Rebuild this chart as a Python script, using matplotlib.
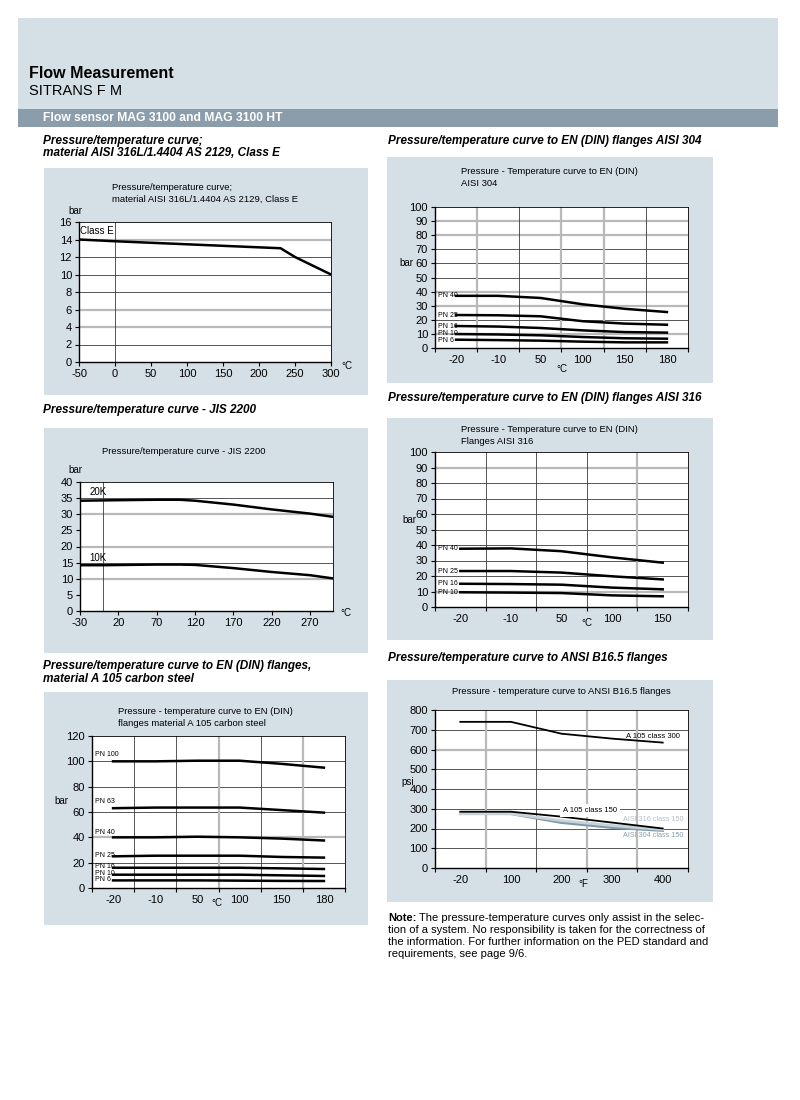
import numpy as np
import matplotlib
matplotlib.use("Agg")
import matplotlib.pyplot as plt
from matplotlib.patches import Rectangle

plt.rcParams["font.family"] = ["Liberation Sans", "DejaVu Sans"]
plt.rcParams["axes.unicode_minus"] = False

W, H = 800, 1100

# ---------------- data ----------------
# Class E, AISI 316L / 1.4404 AS 2129
classe_t = [-50, 0, 230, 250, 300]
classe_p = [14, 13.8, 13.0, 12.0, 10.0]

# JIS 2200
jis_t = [-30, 0, 70, 100, 120, 170, 220, 270, 300]
jis_20k = [34.2, 34.3, 34.5, 34.5, 34.2, 33.0, 31.5, 30.2, 29.2]
jis_10k = [14.2, 14.2, 14.4, 14.4, 14.3, 13.3, 12.1, 11.1, 10.1]

# EN (DIN) flanges AISI 304
din304_cats = ["-20", "-10", "50", "100", "150", "180"]
din304_names = ["PN 40", "PN 25", "PN 16", "PN 10", "PN 6"]
din304_pn40 = [37.0, 37.0, 35.5, 31.0, 27.8, 25.5]
din304_pn25 = [23.4, 23.2, 22.5, 19.0, 17.3, 16.5]
din304_pn16 = [15.6, 15.2, 14.2, 12.5, 11.3, 10.9]
din304_pn10 = [9.9, 9.6, 9.0, 7.8, 6.9, 6.6]
din304_pn6 = [5.9, 5.6, 5.2, 4.5, 4.0, 4.0]
din304_label_y = [37, 23, 15, 10, 5.5]

# EN (DIN) flanges AISI 316
din316_cats = ["-20", "-10", "50", "100", "150"]
din316_names = ["PN 40", "PN 25", "PN 16", "PN 10"]
din316_pn40 = [37.6, 37.8, 36.0, 32.0, 28.6]
din316_pn25 = [23.2, 23.2, 22.2, 19.8, 17.8]
din316_pn16 = [15.0, 14.8, 14.4, 12.5, 11.4]
din316_pn10 = [9.5, 9.3, 9.0, 7.5, 6.9]
din316_label_y = [38, 23, 15, 9.5]

# EN (DIN) flanges A 105 carbon steel
a105_cats = ["-20", "-10", "50", "100", "150", "180"]
a105_names = ["PN 100", "PN 63", "PN 40", "PN 25", "PN 16", "PN 10", "PN 6"]
a105_pn100 = [100.0, 100.0, 100.5, 100.5, 98.0, 95.0]
a105_pn63 = [63.0, 63.5, 63.5, 63.5, 61.5, 59.5]
a105_pn40 = [40.0, 40.0, 40.5, 40.0, 39.0, 37.5]
a105_pn25 = [25.0, 25.5, 25.5, 25.5, 24.5, 24.0]
a105_pn16 = [16.0, 16.0, 16.0, 16.0, 15.5, 15.0]
a105_pn10 = [10.5, 10.5, 10.5, 10.5, 10.0, 9.5]
a105_pn6 = [6.0, 6.0, 6.0, 5.8, 5.6, 5.5]
a105_label_y = [105, 68, 44, 25.5, 17, 11.5, 6.8]

# ANSI B16.5 flanges (psi vs degF)
ansi_cats = ["-20", "100", "200", "300", "400"]
ansi_a105_300 = [740, 740, 680, 655, 635]
ansi_a105_150 = [285, 285, 260, 230, 200]
ansi_316_150 = [275, 275, 240, 215, 195]
ansi_304_150 = [275, 275, 230, 205, 190]

# ---------------- style ----------------
BOX = "#d5dfe6"
BAND = "#8b9dab"
GREY = "#b9b9b9"
DARK = "#3a3a3a"

fig = plt.figure(figsize=(W / 100, H / 100), dpi=100)
fig.patch.set_facecolor("white")


def rect(x0, y0, x1, y1, color):
    fig.add_artist(Rectangle((x0 / W, 1 - y1 / H), (x1 - x0) / W, (y1 - y0) / H,
                             transform=fig.transFigure, color=color, lw=0, zorder=-5))


def ftxt(x, y, s, **kw):
    kw.setdefault("va", "center")
    kw.setdefault("ha", "left")
    return fig.text(x / W, 1 - y / H, s, **kw)


def px_axes(x0, y0, x1, y1):
    ax = fig.add_axes([x0 / W, 1 - y1 / H, (x1 - x0) / W, (y1 - y0) / H])
    ax.set_facecolor("white")
    for s in ["top", "right"]:
        ax.spines[s].set_linewidth(0.6)
    for s in ["left", "bottom"]:
        ax.spines[s].set_linewidth(1.0)
    ax.tick_params(labelsize=8, length=3, width=0.8, direction="out", pad=2)
    return ax


def hgrid(ax, levels, kinds):
    for v, k in zip(levels, kinds):
        if k == "g":
            ax.axhline(v, color=GREY, lw=1.6, zorder=1)
        else:
            ax.axhline(v, color=DARK, lw=0.6, zorder=1)


def vgrid(ax, levels, kinds):
    for v, k in zip(levels, kinds):
        if k == "g":
            ax.axvline(v, color=GREY, lw=1.6, zorder=1)
        else:
            ax.axvline(v, color=DARK, lw=0.6, zorder=1)


def cat_axis(ax, cats):
    n = len(cats)
    ax.set_xlim(0, n)
    ax.set_xticks(np.arange(n) + 0.5)
    ax.set_xticklabels(cats)
    ax.set_xticks(np.arange(n + 1), minor=True)
    ax.tick_params(axis="x", which="major", length=0, pad=5)
    ax.tick_params(axis="x", which="minor", length=3, width=0.8)
    return np.arange(n) + 0.5


# ---------------- page header ----------------
rect(18, 18, 778, 109, BOX)
rect(18, 109, 778, 127, BAND)
ftxt(29, 74, "Flow Measurement", fontsize=11.5, fontweight="bold")
ftxt(29, 91, "SITRANS F M", fontsize=10.5)
ftxt(43, 118, "Flow sensor MAG 3100 and MAG 3100 HT", fontsize=8.7,
     fontweight="bold", color="white")

hd = dict(fontsize=8.5, fontweight="bold", style="italic")
ftxt(43, 141, "Pressure/temperature curve;", **hd)
ftxt(43, 153, "material AISI 316L/1.4404 AS 2129, Class E", **hd)
ftxt(388, 141, "Pressure/temperature curve to EN (DIN) flanges AISI 304", **hd)
ftxt(43, 410, "Pressure/temperature curve - JIS 2200", **hd)
ftxt(388, 398, "Pressure/temperature curve to EN (DIN) flanges AISI 316", **hd)
ftxt(43, 666, "Pressure/temperature curve to EN (DIN) flanges,", **hd)
ftxt(43, 679, "material A 105 carbon steel", **hd)
ftxt(388, 658, "Pressure/temperature curve to ANSI B16.5 flanges", **hd)

# boxes
rect(44, 168, 368, 395, BOX)
rect(387, 157, 713, 383, BOX)
rect(44, 428, 368, 653, BOX)
rect(387, 418, 713, 640, BOX)
rect(44, 692, 368, 925, BOX)
rect(387, 680, 713, 902, BOX)

tt = dict(fontsize=6.8)
pn = dict(fontsize=5, va="center", zorder=4)

# ---------------- panel 1: Class E ----------------
ax1 = px_axes(79, 222, 331, 362)
ax1.set_xlim(-50, 300)
ax1.set_ylim(0, 16)
ax1.set_xticks(range(-50, 301, 50))
ax1.set_yticks(range(0, 17, 2))
hgrid(ax1, [2, 4, 6, 8, 10, 12, 14], ["d", "g", "g", "d", "d", "d", "g"])
ax1.axvline(0, color=DARK, lw=0.6, zorder=1)
ax1.plot(classe_t, classe_p, color="black", lw=1.8, zorder=3)
ax1.text(-48, 15, "Class E", fontsize=7, va="center", zorder=4)
ftxt(112, 187, "Pressure/temperature curve;", **tt)
ftxt(112, 199, "material AISI 316L/1.4404 AS 2129, Class E", **tt)
ftxt(68, 211, "bar", fontsize=7)
ftxt(341, 366, "°C", fontsize=7)

# ---------------- panel 2: AISI 304 ----------------
ax2 = px_axes(435, 207, 688, 348)
x2 = cat_axis(ax2, din304_cats)
ax2.set_ylim(0, 100)
ax2.set_yticks(range(0, 101, 10))
hgrid(ax2, range(10, 100, 10), ["g", "d", "g", "g", "d", "d", "d", "g", "g"])
vgrid(ax2, range(1, 6), ["g", "d", "g", "g", "d"])
for vals in [din304_pn40, din304_pn25, din304_pn16, din304_pn10, din304_pn6]:
    ax2.plot(x2, vals, color="black", lw=1.8, zorder=3)
for name, ly in zip(din304_names, din304_label_y):
    ax2.text(0.06, ly, name, **pn)
ftxt(461, 172, "Pressure - Temperature curve to EN (DIN)", **tt)
ftxt(461, 184, "AISI 304", **tt)
ftxt(399, 263, "bar", fontsize=7)
ftxt(562, 369, "°C", fontsize=7, ha="center")

# ---------------- panel 3: JIS 2200 ----------------
ax3 = px_axes(80, 482, 333, 611)
ax3.set_xlim(-30, 300)
ax3.set_ylim(0, 40)
ax3.set_xticks(range(-30, 271, 50))
ax3.set_yticks(range(0, 41, 5))
hgrid(ax3, [10, 15, 20, 30, 35], ["g", "d", "g", "g", "d"])
ax3.axvline(0, color=DARK, lw=0.6, zorder=1)
ax3.plot(jis_t, jis_20k, color="black", lw=1.8, zorder=3)
ax3.plot(jis_t, jis_10k, color="black", lw=1.8, zorder=3)
ax3.text(-18, 37, "20K", fontsize=7, va="center", zorder=4)
ax3.text(-18, 16.3, "10K", fontsize=7, va="center", zorder=4)
ftxt(102, 452, "Pressure/temperature curve - JIS 2200", **tt)
ftxt(68, 470, "bar", fontsize=7)
ftxt(340, 613, "°C", fontsize=7)

# ---------------- panel 4: AISI 316 ----------------
ax4 = px_axes(435, 452, 688, 607)
x4 = cat_axis(ax4, din316_cats)
ax4.set_ylim(0, 100)
ax4.set_yticks(range(0, 101, 10))
hgrid(ax4, range(10, 100, 10), ["g", "d", "d", "d", "d", "d", "d", "d", "g"])
vgrid(ax4, range(1, 5), ["d", "d", "d", "g"])
for vals in [din316_pn40, din316_pn25, din316_pn16, din316_pn10]:
    ax4.plot(x4, vals, color="black", lw=1.8, zorder=3)
for name, ly in zip(din316_names, din316_label_y):
    ax4.text(0.06, ly, name, **pn)
ftxt(461, 430, "Pressure - Temperature curve to EN (DIN)", **tt)
ftxt(461, 442, "Flanges AISI 316", **tt)
ftxt(402, 520, "bar", fontsize=7)
ftxt(587, 623, "°C", fontsize=7, ha="center")

# ---------------- panel 5: A 105 ----------------
ax5 = px_axes(92, 736, 345, 888)
x5 = cat_axis(ax5, a105_cats)
ax5.set_ylim(0, 120)
ax5.set_yticks(range(0, 121, 20))
hgrid(ax5, [20, 40, 60, 80, 100], ["d", "g", "d", "d", "d"])
vgrid(ax5, range(1, 6), ["d", "d", "g", "d", "g"])
for vals in [a105_pn100, a105_pn63, a105_pn40, a105_pn25, a105_pn16, a105_pn10, a105_pn6]:
    ax5.plot(x5, vals, color="black", lw=1.8, zorder=3)
for name, ly in zip(a105_names, a105_label_y):
    ax5.text(0.06, ly, name, **pn)
ftxt(118, 712, "Pressure - temperature curve to EN (DIN)", **tt)
ftxt(118, 723, "flanges material A 105 carbon steel", **tt)
ftxt(54, 801, "bar", fontsize=7)
ftxt(217, 903, "°C", fontsize=7, ha="center")

# ---------------- panel 6: ANSI B16.5 ----------------
ax6 = px_axes(435, 710, 688, 868)
x6 = cat_axis(ax6, ansi_cats)
ax6.set_ylim(0, 800)
ax6.set_yticks(range(0, 801, 100))
hgrid(ax6, range(100, 800, 100), ["d", "d", "d", "d", "d", "g", "d"])
vgrid(ax6, range(1, 5), ["g", "d", "g", "g"])
ax6.plot(x6, ansi_304_150, color="#7f9aac", lw=2.0, zorder=3)
ax6.plot(x6, ansi_316_150, color="#c9d2d8", lw=2.0, zorder=3)
ax6.plot(x6, ansi_a105_150, color="black", lw=1.3, zorder=3)
ax6.plot(x6, ansi_a105_300, color="black", lw=1.3, zorder=3)
ax6.text(4.3, 668, "A 105 class 300", fontsize=5.5, ha="center", va="center", zorder=4)
ax6.text(3.06, 289, "A 105 class 150", fontsize=5.5, ha="center", va="center", zorder=4,
         bbox=dict(boxstyle="square,pad=0.4", fc="white", ec="none"))
ax6.text(4.32, 248, "AISI 316 class 150", fontsize=5.2, ha="center", va="center",
         color="#b3bec6", zorder=4)
ax6.text(4.32, 167, "AISI 304 class 150", fontsize=5.2, ha="center", va="center",
         color="#879dad", zorder=4)
ftxt(452, 692, "Pressure - temperature curve to ANSI B16.5 flanges", **tt)
ftxt(401, 782, "psi", fontsize=7)
ftxt(583, 884, "°F", fontsize=7, ha="center")

# ---------------- note ----------------
nt = dict(fontsize=8)
t0 = ftxt(388, 918, "Note:", fontweight="bold", **nt)
fig.canvas.draw()
bb = t0.get_window_extent(fig.canvas.get_renderer())
ftxt(bb.x1 + 3, 918, "The pressure-temperature curves only assist in the selec-", **nt)
ftxt(388, 930, "tion of a system. No responsibility is taken for the correctness of", **nt)
ftxt(388, 942, "the information. For further information on the PED standard and", **nt)
ftxt(388, 954, "requirements, see page 9/6.", **nt)

fig.savefig("out.png", dpi=100)
